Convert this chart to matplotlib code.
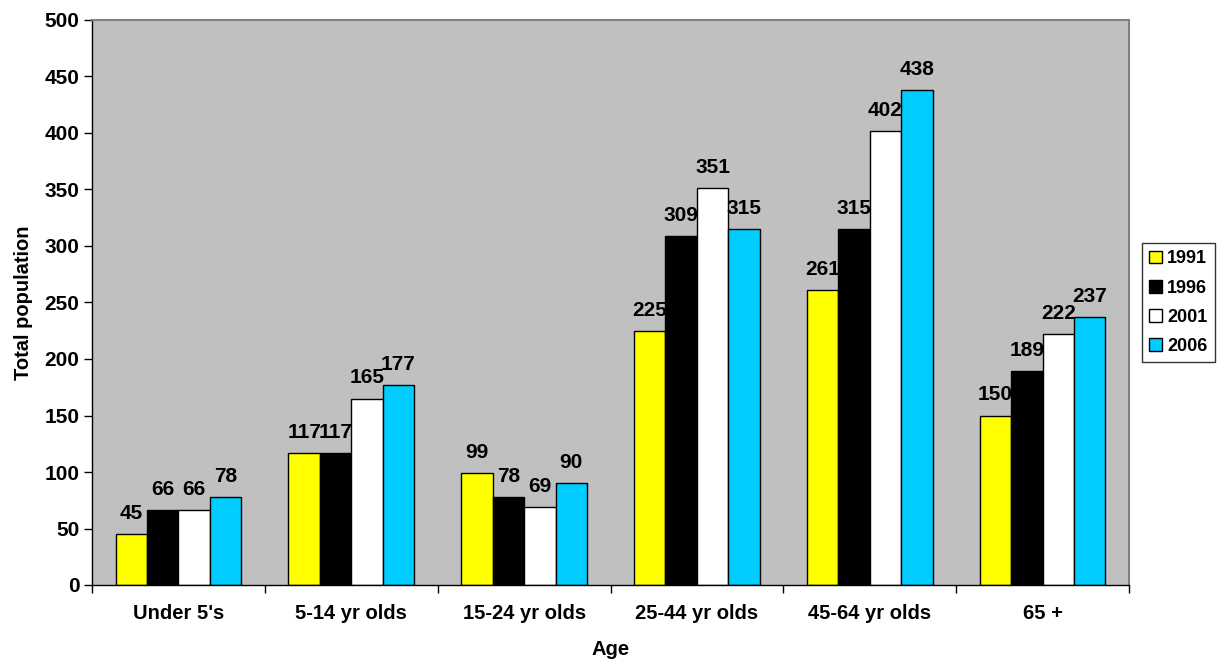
import numpy as np
import matplotlib.pyplot as plt

plt.rcParams['font.family'] = ['Liberation Sans', 'DejaVu Sans']
plt.rcParams['font.weight'] = 'bold'

categories = ["Under 5's", "5-14 yr olds", "15-24 yr olds", "25-44 yr olds", "45-64 yr olds", "65 +"]
years = ["1991", "1996", "2001", "2006"]
pop_1991 = [45, 117, 99, 225, 261, 150]
pop_1996 = [66, 117, 78, 309, 315, 189]
pop_2001 = [66, 165, 69, 351, 402, 222]
pop_2006 = [78, 177, 90, 315, 438, 237]
series = [pop_1991, pop_1996, pop_2001, pop_2006]
colors = ['#FFFF00', '#000000', '#FFFFFF', '#00CCFF']

fig = plt.figure(figsize=(12.18, 6.6), dpi=100)
ax = fig.add_axes([92/1218, 1-585/660, (1129-92)/1218, (585-20)/660])
ax.set_facecolor('#C0C0C0')

n = len(categories)
w = 1/5.5
centers = np.arange(n) + 0.5
for k, (vals, c) in enumerate(zip(series, colors)):
    xs = centers + (k - 1.5) * w
    ax.bar(xs, vals, width=w, color=c, edgecolor='black', linewidth=1, label=years[k])
    for x, v in zip(xs, vals):
        ax.annotate(str(v), (x, v), xytext=(0, 8), textcoords='offset points',
                    ha='center', va='bottom', fontsize=15, fontweight='bold')

ax.set_xlim(0, n)
ax.set_ylim(0, 500)
ax.set_yticks(range(0, 501, 50))
ax.set_xticks(range(n + 1))
ax.set_xticklabels([])
ax.set_xticks(centers, minor=True)
ax.set_xticklabels(categories, minor=True)
ax.tick_params(axis='x', which='minor', length=0, pad=14, labelsize=14.5)
ax.tick_params(axis='x', which='major', length=6, width=1)
ax.tick_params(axis='y', length=6, width=1, labelsize=15, pad=3)

for s in ['top', 'right']:
    ax.spines[s].set_color('#808080')
    ax.spines[s].set_linewidth(1.5)
for s in ['left', 'bottom']:
    ax.spines[s].set_color('black')
    ax.spines[s].set_linewidth(1)

ax.set_xlabel('Age', fontsize=14.5, fontweight='bold', labelpad=12)
ax.set_ylabel('Total population', fontsize=14.5, fontweight='bold', labelpad=8)

leg = ax.legend(loc='upper left', bbox_to_anchor=(1142/1218, 1-243/660),
                bbox_transform=fig.transFigure, fontsize=13, frameon=True,
                fancybox=False, edgecolor='black', handlelength=0.7, handleheight=0.7,
                handletextpad=0.3, labelspacing=0.68, borderpad=0.4, borderaxespad=0)
leg.get_frame().set_linewidth(1)

fig.savefig('out.png', dpi=100)
